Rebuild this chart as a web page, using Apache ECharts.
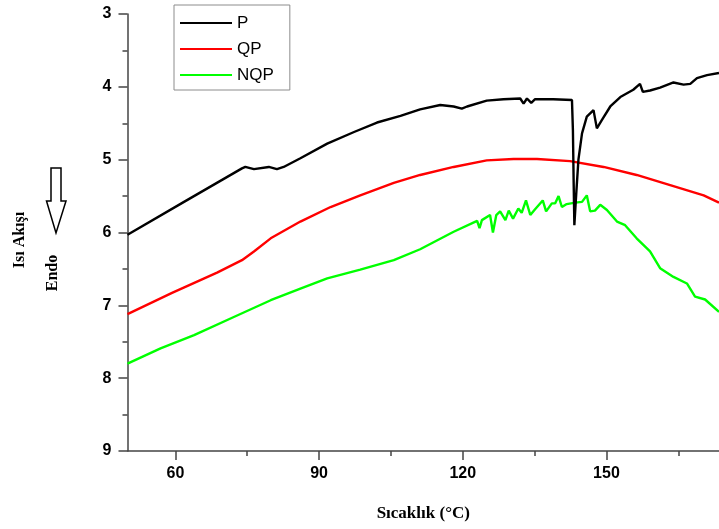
<!DOCTYPE html>
<html>
<head>
<meta charset="utf-8">
<script src="https://cdn.jsdelivr.net/npm/echarts@6/dist/echarts.min.js"></script>
<style>
html,body{margin:0;padding:0;background:#fff;}
#chart{width:719px;height:529px;}
</style>
</head>
<body>
<div id="chart"></div>
<script>
var seriesNames = ['P', 'QP', 'NQP'];
var xMajorTicks = [60, 90, 120, 150];
var xMinorTicks = [75, 105, 135, 165];

var pX = [50, 61.8, 73.9, 74.6, 76.4, 79.5, 81.2, 82.6, 86.1, 91.7, 97.3, 102.1, 107.0, 111.1, 115.3, 118.1, 119.8, 120.9, 125.0, 128.5, 132.0, 132.7, 133.4, 134.3, 135.1, 138.9, 142.8, 143.0, 143.15, 143.3, 143.7, 144.15, 144.9, 145.9, 147.3, 148.0, 149.0, 150.8, 152.9, 155.6, 157.0, 157.6, 159.1, 161.2, 164.0, 166.1, 167.5, 168.9, 171.0, 173.5];
var pY = [6.03, 5.58, 5.12, 5.10, 5.13, 5.10, 5.13, 5.10, 4.98, 4.78, 4.62, 4.49, 4.40, 4.31, 4.25, 4.27, 4.30, 4.27, 4.19, 4.17, 4.16, 4.23, 4.16, 4.22, 4.17, 4.17, 4.18, 4.60, 5.30, 5.90, 5.46, 5.00, 4.64, 4.41, 4.32, 4.57, 4.46, 4.27, 4.14, 4.04, 3.96, 4.07, 4.05, 4.01, 3.94, 3.97, 3.96, 3.88, 3.84, 3.81];

var qpX = [50, 59.3, 68.7, 73.9, 76.4, 79.9, 86.1, 92.4, 98.6, 105.6, 111.1, 118.1, 125.0, 130.6, 135.5, 142.4, 149.4, 156.3, 163.3, 170.3, 173.5];
var qpY = [7.12, 6.83, 6.55, 6.38, 6.26, 6.08, 5.85, 5.65, 5.49, 5.32, 5.21, 5.10, 5.01, 4.99, 4.99, 5.02, 5.10, 5.21, 5.35, 5.49, 5.59];

var nqpX = [50, 56.9, 63.9, 72.2, 79.9, 86.1, 91.7, 98.6, 105.6, 111.1, 118.1, 123.0, 123.5, 124.0, 125.7, 126.3, 127.0, 127.8, 128.9, 129.6, 130.5, 131.6, 132.3, 133.2, 134.1, 135.1, 136.7, 137.4, 138.6, 139.3, 140.0, 140.7, 141.7, 143.5, 144.9, 145.9, 146.6, 147.6, 148.7, 150.1, 152.2, 153.9, 156.3, 159.1, 161.2, 164.0, 166.8, 168.5, 170.6, 173.5];
var nqpY = [7.80, 7.59, 7.41, 7.16, 6.93, 6.77, 6.63, 6.51, 6.38, 6.23, 5.99, 5.84, 5.94, 5.83, 5.76, 6.00, 5.76, 5.71, 5.83, 5.70, 5.81, 5.67, 5.73, 5.56, 5.76, 5.68, 5.56, 5.71, 5.60, 5.60, 5.50, 5.65, 5.61, 5.59, 5.58, 5.49, 5.71, 5.70, 5.62, 5.69, 5.85, 5.90, 6.08, 6.26, 6.49, 6.61, 6.70, 6.88, 6.92, 7.09];

function zip(xs, ys) { return xs.map(function (x, i) { return [x, ys[i]]; }); }

var axisColor = '#444';
var chart = echarts.init(document.getElementById('chart'), null, {renderer: 'canvas'});
var option = {
  animation: false,
  backgroundColor: '#fff',
  grid: {left: 127.5, right: 0, top: 14, bottom: 78, containLabel: false},
  legend: {
    orient: 'vertical', left: 174, top: 5,
    data: seriesNames, icon: 'rect', itemWidth: 52, itemHeight: 2, itemGap: 6,
    padding: [8, 16, 5, 6],
    borderColor: '#8c8c8c', borderWidth: 1,
    textStyle: {fontFamily: 'Liberation Sans', fontSize: 17, color: '#000', lineHeight: 20}
  },
  xAxis: [{
    type: 'value', min: 50, max: 173.5, position: 'bottom',
    name: 'Sıcaklık (°C)', nameLocation: 'middle', nameGap: 54,
    nameTextStyle: {fontFamily: 'Liberation Serif', fontWeight: 'bold', fontSize: 17, color: '#000'},
    axisLine: {show: true, onZero: false, lineStyle: {color: axisColor, width: 1.5}},
    axisTick: {show: true, length: 9, customValues: xMajorTicks, lineStyle: {color: axisColor, width: 1.5}},
    axisLabel: {show: true, customValues: xMajorTicks, margin: 15, fontFamily: 'Liberation Sans', fontWeight: 'bold', fontSize: 16, color: '#000'},
    splitLine: {show: false}
  }, {
    type: 'value', min: 50, max: 173.5, position: 'bottom',
    axisLine: {show: false, onZero: false},
    axisTick: {show: true, length: 5, customValues: xMinorTicks, lineStyle: {color: axisColor, width: 1.5}},
    axisLabel: {show: false},
    splitLine: {show: false}
  }],
  yAxis: {
    type: 'value', min: 3, max: 9, interval: 1, inverse: true,
    axisLine: {show: true, onZero: false, lineStyle: {color: axisColor, width: 1.5}},
    axisTick: {show: true, length: 9, lineStyle: {color: axisColor, width: 1.5}},
    minorTick: {show: true, splitNumber: 2, length: 5, lineStyle: {color: axisColor, width: 1.5}},
    axisLabel: {margin: 16, fontFamily: 'Liberation Sans', fontWeight: 'bold', fontSize: 16, color: '#000'},
    splitLine: {show: false}
  },
  graphic: [
    {type: 'text', x: 20, y: 240, rotation: Math.PI / 2,
     style: {text: 'Isı Akışı', font: 'bold 16px "Liberation Serif"', fill: '#000', align: 'center', verticalAlign: 'middle'}},
    {type: 'text', x: 53, y: 273, rotation: Math.PI / 2,
     style: {text: 'Endo', font: 'bold 16px "Liberation Serif"', fill: '#000', align: 'center', verticalAlign: 'middle'}},
    {type: 'polygon', shape: {points: [[51, 168], [61, 168], [61, 201], [66, 201], [56, 233], [46.5, 201], [51, 201]]},
     style: {fill: '#fff', stroke: '#000', lineWidth: 1.5}}
  ],
  series: [
    {name: 'P', type: 'line', data: zip(pX, pY), showSymbol: false, symbol: 'none', z: 4,
     lineStyle: {color: '#000', width: 2.4}, itemStyle: {color: '#000'}},
    {name: 'QP', type: 'line', data: zip(qpX, qpY), showSymbol: false, symbol: 'none', z: 3,
     lineStyle: {color: '#ff0000', width: 2.4}, itemStyle: {color: '#ff0000'}},
    {name: 'NQP', type: 'line', data: zip(nqpX, nqpY), showSymbol: false, symbol: 'none', z: 2,
     lineStyle: {color: '#00ff00', width: 2.4}, itemStyle: {color: '#00ff00'}}
  ]
};
chart.setOption(option);
</script>
</body>
</html>
